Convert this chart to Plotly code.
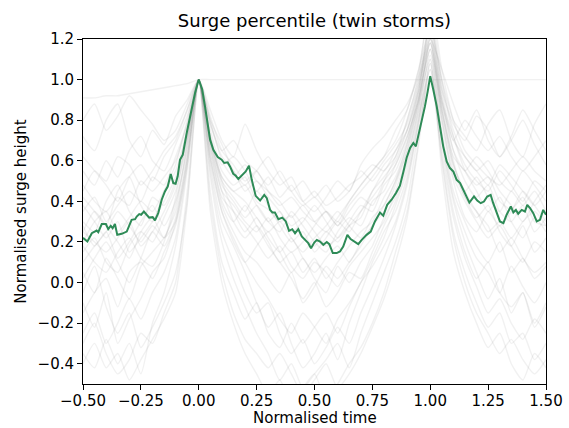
import plotly.graph_objects as go

# Normalised time axis shared by the ensemble members
ens_t = [-0.50, -0.45, -0.40, -0.35, -0.30, -0.25, -0.20, -0.15, -0.10, -0.05,
         0.00, 0.05, 0.10, 0.15, 0.20, 0.25, 0.30, 0.35, 0.40, 0.45,
         0.50, 0.55, 0.60, 0.65, 0.70, 0.75, 0.80, 0.85, 0.90, 0.95,
         1.00, 1.05, 1.10, 1.15, 1.20, 1.25, 1.30, 1.35, 1.40, 1.45, 1.50]

# Individual twin-storm surge events (normalised to the first peak)
ens_a = [0.35, 0.42, 0.30, 0.38, 0.45, 0.40, 0.52, 0.48, 0.62, 0.78, 1.00, 0.72, 0.55, 0.48, 0.52, 0.40, 0.36, 0.30, 0.33, 0.22, 0.18, 0.25, 0.20, 0.28, 0.35, 0.42, 0.50, 0.58, 0.72, 0.90, 1.15, 0.85, 0.62, 0.55, 0.48, 0.52, 0.40, 0.36, 0.42, 0.30, 0.28]
ens_b = [-0.10, -0.22, -0.05, -0.30, -0.18, -0.08, 0.05, 0.12, 0.30, 0.62, 1.00, 0.58, 0.30, 0.18, 0.05, -0.10, -0.22, -0.15, -0.30, -0.42, -0.35, -0.25, -0.38, -0.20, -0.05, 0.10, 0.22, 0.38, 0.55, 0.82, 1.05, 0.70, 0.40, 0.20, 0.05, -0.08, 0.02, -0.15, -0.05, -0.22, -0.12]
ens_c = [0.72, 0.65, 0.80, 0.88, 0.70, 0.62, 0.75, 0.68, 0.82, 0.90, 1.00, 0.85, 0.70, 0.62, 0.78, 0.65, 0.55, 0.48, 0.52, 0.40, 0.35, 0.42, 0.50, 0.45, 0.58, 0.66, 0.72, 0.80, 0.88, 1.02, 1.22, 0.95, 0.78, 0.70, 0.82, 0.75, 0.62, 0.70, 0.80, 0.68, 0.58]
ens_d = [0.15, 0.22, 0.10, 0.05, 0.18, 0.25, 0.20, 0.32, 0.45, 0.70, 1.00, 0.65, 0.42, 0.35, 0.28, 0.20, 0.12, 0.18, 0.08, 0.02, 0.10, 0.05, -0.02, 0.08, 0.15, 0.22, 0.30, 0.45, 0.62, 0.85, 1.12, 0.80, 0.52, 0.40, 0.30, 0.22, 0.28, 0.18, 0.10, 0.20, 0.15]
ens_e = [0.28, 0.18, 0.25, 0.12, 0.20, 0.30, 0.38, 0.28, 0.40, 0.65, 1.00, 0.78, 0.62, 0.55, 0.45, 0.50, 0.42, 0.35, 0.28, 0.32, 0.25, 0.18, 0.22, 0.30, 0.38, 0.35, 0.48, 0.55, 0.70, 0.95, 1.28, 0.92, 0.65, 0.50, 0.42, 0.48, 0.35, 0.30, 0.38, 0.25, 0.32]
ens_f = [-0.35, -0.42, -0.28, -0.40, -0.30, -0.45, -0.20, -0.05, 0.18, 0.55, 1.00, 0.52, 0.20, 0.02, -0.12, -0.25, -0.35, -0.48, -0.40, -0.52, -0.45, -0.38, -0.30, -0.42, -0.25, -0.10, 0.05, 0.20, 0.40, 0.75, 1.02, 0.62, 0.25, 0.05, -0.10, -0.22, -0.15, -0.30, -0.25, -0.38, -0.30]
ens_g = [0.45, 0.55, 0.50, 0.62, 0.58, 0.48, 0.55, 0.65, 0.72, 0.85, 1.00, 0.80, 0.60, 0.52, 0.58, 0.50, 0.45, 0.38, 0.42, 0.35, 0.30, 0.35, 0.28, 0.38, 0.45, 0.52, 0.60, 0.68, 0.78, 0.98, 1.18, 0.88, 0.70, 0.62, 0.55, 0.60, 0.50, 0.45, 0.55, 0.48, 0.40]
ens_h = [0.05, -0.05, 0.12, 0.02, -0.08, 0.08, 0.15, 0.22, 0.35, 0.68, 1.00, 0.62, 0.38, 0.25, 0.15, 0.10, 0.02, -0.05, 0.05, -0.10, -0.02, 0.08, 0.02, 0.10, 0.18, 0.28, 0.35, 0.48, 0.65, 0.88, 1.10, 0.75, 0.45, 0.30, 0.18, 0.10, 0.20, 0.05, 0.12, 0.02, 0.08]
ens_i = [0.20, 0.30, 0.35, 0.25, 0.32, 0.40, 0.35, 0.45, 0.55, 0.75, 1.00, 0.70, 0.50, 0.42, 0.35, 0.45, 0.38, 0.28, 0.20, 0.25, 0.15, 0.22, 0.30, 0.25, 0.35, 0.45, 0.55, 0.62, 0.80, 1.00, 1.20, 1.05, 0.88, 0.75, 0.85, 0.70, 0.62, 0.72, 0.85, 0.75, 0.65]
ens_j = [0.30, 0.25, 0.40, 0.48, 0.35, 0.28, 0.42, 0.38, 0.50, 0.72, 1.00, 0.68, 0.45, 0.30, 0.22, 0.28, 0.20, 0.10, 0.15, 0.05, 0.12, 0.02, 0.10, 0.18, 0.25, 0.30, 0.42, 0.52, 0.68, 0.92, 1.15, 0.82, 0.55, 0.42, 0.32, 0.38, 0.25, 0.18, 0.28, 0.15, 0.22]
ens_k = [-0.15, -0.05, 0.02, -0.12, 0.05, 0.10, 0.02, 0.15, 0.28, 0.60, 1.00, 0.60, 0.35, 0.22, 0.10, 0.00, -0.08, -0.18, -0.25, -0.15, -0.22, -0.30, -0.18, -0.10, 0.00, 0.12, 0.25, 0.35, 0.52, 0.80, 1.08, 0.72, 0.42, 0.25, 0.12, 0.05, -0.05, 0.08, -0.02, -0.10, 0.00]
ens_l = [0.55, 0.48, 0.60, 0.52, 0.65, 0.72, 0.60, 0.55, 0.68, 0.82, 1.00, 0.75, 0.58, 0.62, 0.55, 0.45, 0.52, 0.42, 0.48, 0.40, 0.45, 0.38, 0.42, 0.48, 0.52, 0.58, 0.55, 0.65, 0.75, 0.95, 1.25, 0.90, 0.72, 0.58, 0.50, 0.45, 0.55, 0.48, 0.40, 0.50, 0.45]
ens_m = [0.10, 0.18, 0.25, 0.35, 0.28, 0.20, 0.28, 0.22, 0.38, 0.68, 1.00, 0.70, 0.48, 0.40, 0.32, 0.38, 0.30, 0.25, 0.35, 0.28, 0.20, 0.15, 0.25, 0.32, 0.28, 0.40, 0.45, 0.58, 0.72, 0.92, 1.30, 0.98, 0.72, 0.55, 0.45, 0.35, 0.42, 0.30, 0.22, 0.32, 0.25]
ens_n = [-0.25, -0.15, -0.30, -0.20, -0.08, -0.18, -0.05, 0.05, 0.22, 0.58, 1.00, 0.55, 0.25, 0.10, -0.05, -0.15, -0.10, -0.25, -0.35, -0.28, -0.40, -0.32, -0.22, -0.30, -0.15, -0.02, 0.12, 0.28, 0.48, 0.78, 1.05, 0.65, 0.32, 0.12, -0.02, -0.15, -0.08, -0.20, -0.28, -0.18, -0.25]
ens_o = [0.38, 0.30, 0.22, 0.30, 0.15, 0.22, 0.30, 0.40, 0.52, 0.75, 1.00, 0.72, 0.52, 0.45, 0.40, 0.32, 0.25, 0.30, 0.22, 0.15, 0.22, 0.28, 0.35, 0.28, 0.22, 0.32, 0.38, 0.50, 0.65, 0.90, 1.18, 0.85, 0.58, 0.45, 0.52, 0.42, 0.35, 0.45, 0.38, 0.45, 0.35]
ens_p = [0.25, 0.20, 0.15, 0.22, 0.30, 0.18, 0.25, 0.35, 0.48, 0.72, 1.00, 0.68, 0.45, 0.38, 0.30, 0.25, 0.32, 0.22, 0.15, 0.20, 0.28, 0.35, 0.30, 0.40, 0.48, 0.55, 0.62, 0.70, 0.85, 1.05, 1.25, 1.00, 0.80, 0.72, 0.65, 0.78, 0.85, 0.70, 0.62, 0.78, 0.88]
ens_q = [-0.05, 0.08, -0.12, -0.25, -0.15, -0.32, -0.22, -0.10, 0.05, 0.40, 1.00, 0.35, 0.00, -0.20, -0.35, -0.45, -0.55, -0.48, -0.60, -0.52, -0.45, -0.58, -0.50, -0.40, -0.32, -0.20, -0.05, 0.15, 0.35, 0.70, 1.10, 0.55, 0.15, -0.05, -0.20, -0.32, -0.25, -0.40, -0.48, -0.35, -0.42]
ens_r = [0.80, 0.88, 0.75, 0.82, 0.92, 0.85, 0.78, 0.70, 0.75, 0.88, 1.00, 0.82, 0.65, 0.58, 0.50, 0.55, 0.45, 0.40, 0.32, 0.38, 0.30, 0.25, 0.32, 0.40, 0.48, 0.55, 0.62, 0.75, 0.85, 1.05, 1.35, 1.00, 0.75, 0.62, 0.55, 0.48, 0.58, 0.52, 0.45, 0.38, 0.45]
ens_s = [0.02, 0.12, 0.20, 0.10, 0.00, 0.12, 0.25, 0.18, 0.32, 0.62, 1.00, 0.66, 0.40, 0.30, 0.38, 0.28, 0.18, 0.10, 0.02, -0.08, 0.00, -0.12, -0.05, 0.05, 0.02, 0.15, 0.28, 0.40, 0.58, 0.85, 1.20, 0.85, 0.58, 0.45, 0.35, 0.28, 0.15, 0.22, 0.12, 0.05, 0.10]
ens_u = [0.42, 0.35, 0.28, 0.45, 0.52, 0.38, 0.30, 0.45, 0.58, 0.80, 1.00, 0.78, 0.65, 0.70, 0.60, 0.55, 0.48, 0.55, 0.45, 0.38, 0.42, 0.35, 0.28, 0.35, 0.42, 0.38, 0.50, 0.62, 0.75, 0.95, 1.20, 0.90, 0.65, 0.55, 0.62, 0.55, 0.45, 0.38, 0.30, 0.40, 0.48]
ens_v = [-0.30, -0.20, -0.35, -0.45, -0.38, -0.25, -0.30, -0.15, 0.00, 0.45, 1.00, 0.45, 0.10, -0.05, -0.18, -0.10, -0.25, -0.32, -0.20, -0.30, -0.22, -0.15, -0.25, -0.12, 0.00, 0.08, 0.18, 0.30, 0.50, 0.80, 1.15, 0.70, 0.35, 0.15, 0.02, 0.10, -0.05, -0.12, -0.05, -0.20, -0.10]
ens_w = [0.18, 0.10, 0.05, 0.15, 0.22, 0.12, 0.08, 0.20, 0.42, 0.72, 1.00, 0.72, 0.50, 0.35, 0.25, 0.32, 0.22, 0.15, 0.22, 0.12, 0.05, 0.12, 0.18, 0.10, 0.20, 0.28, 0.38, 0.50, 0.68, 0.90, 1.22, 0.88, 0.60, 0.42, 0.35, 0.25, 0.30, 0.22, 0.30, 0.35, 0.28]
ens_x = [0.62, 0.55, 0.48, 0.40, 0.52, 0.58, 0.50, 0.62, 0.70, 0.85, 1.00, 0.70, 0.52, 0.45, 0.48, 0.38, 0.30, 0.35, 0.25, 0.30, 0.38, 0.30, 0.22, 0.28, 0.32, 0.45, 0.52, 0.60, 0.75, 0.98, 1.30, 0.95, 0.70, 0.80, 0.72, 0.65, 0.72, 0.62, 0.55, 0.62, 0.70]
ens_y = [0.25, 0.35, 0.28, 0.20, 0.12, 0.25, 0.32, 0.22, 0.30, 0.58, 1.00, 0.62, 0.35, 0.20, 0.10, 0.18, 0.25, 0.15, 0.05, 0.12, 0.02, -0.05, 0.08, 0.00, 0.10, 0.18, 0.32, 0.42, 0.60, 0.88, 1.18, 0.80, 0.50, 0.32, 0.25, 0.35, 0.28, 0.35, 0.45, 0.38, 0.30]
ens_z = [-0.40, -0.30, -0.42, -0.35, -0.48, -0.38, -0.28, -0.18, -0.05, 0.38, 1.00, 0.40, 0.05, -0.15, -0.28, -0.35, -0.42, -0.35, -0.45, -0.55, -0.48, -0.40, -0.52, -0.45, -0.35, -0.22, -0.08, 0.10, 0.32, 0.68, 1.08, 0.60, 0.22, 0.00, -0.15, -0.25, -0.35, -0.28, -0.38, -0.45, -0.38]
ens_aa = [0.48, 0.40, 0.35, 0.42, 0.38, 0.50, 0.45, 0.52, 0.60, 0.78, 1.00, 0.80, 0.68, 0.55, 0.48, 0.55, 0.62, 0.52, 0.45, 0.50, 0.42, 0.48, 0.40, 0.45, 0.55, 0.50, 0.58, 0.65, 0.80, 1.02, 1.40, 1.05, 0.80, 0.65, 0.58, 0.52, 0.48, 0.55, 0.62, 0.55, 0.50]
ens_flat = [0.91, 0.91, 0.92, 0.92, 0.93, 0.94, 0.95, 0.96, 0.97, 0.98, 1.00, 1.00, 1.00, 1.00, 1.00, 1.00, 1.00, 1.00, 1.00, 1.00, 1.00, 1.00, 1.00, 1.00, 1.00, 1.00, 1.00, 1.00, 1.00, 1.00, 1.00, 1.00, 1.00, 1.00, 1.00, 1.00, 1.00, 1.00, 1.00, 1.00, 1.00]

ensemble = [ens_a, ens_b, ens_c, ens_d, ens_e, ens_f, ens_g, ens_h, ens_i,
            ens_j, ens_k, ens_l, ens_m, ens_n, ens_o, ens_p, ens_q, ens_r,
            ens_s, ens_u, ens_v, ens_w, ens_x, ens_y, ens_z, ens_aa, ens_flat]

# Percentile curve
pct_t = [-0.500, -0.481, -0.462, -0.441, -0.434, -0.419, -0.401, -0.391, -0.380, -0.372,
         -0.362, -0.352, -0.333, -0.311, -0.290, -0.275, -0.268, -0.257, -0.249, -0.237,
         -0.225, -0.214, -0.199, -0.189, -0.175, -0.160, -0.146, -0.134, -0.121, -0.110,
         -0.100, -0.091, -0.081, -0.069, -0.052, -0.030, -0.016, 0.000, 0.015, 0.027,
         0.039, 0.049, 0.063, 0.082, 0.099, 0.110, 0.125, 0.135, 0.149, 0.160,
         0.171, 0.186, 0.203, 0.217, 0.229, 0.246, 0.265, 0.283, 0.294, 0.308,
         0.318, 0.329, 0.344, 0.361, 0.376, 0.390, 0.404, 0.416, 0.430, 0.445,
         0.459, 0.473, 0.485, 0.499, 0.510, 0.524, 0.538, 0.553, 0.564, 0.579,
         0.596, 0.610, 0.624, 0.642, 0.656, 0.671, 0.689, 0.704, 0.725, 0.743,
         0.761, 0.783, 0.797, 0.814, 0.833, 0.852, 0.869, 0.884, 0.898, 0.913,
         0.927, 0.938, 0.948, 0.963, 0.977, 0.989, 1.000, 1.013, 1.028, 1.042,
         1.056, 1.071, 1.085, 1.100, 1.114, 1.129, 1.143, 1.157, 1.169, 1.189,
         1.203, 1.218, 1.232, 1.246, 1.261, 1.272, 1.287, 1.301, 1.316, 1.330,
         1.348, 1.359, 1.370, 1.380, 1.395, 1.409, 1.419, 1.431, 1.445, 1.460,
         1.474, 1.488, 1.500]
pct_v = [0.220, 0.202, 0.243, 0.256, 0.248, 0.288, 0.288, 0.263, 0.279, 0.268,
         0.288, 0.235, 0.240, 0.251, 0.309, 0.312, 0.325, 0.337, 0.334, 0.350,
         0.334, 0.320, 0.322, 0.306, 0.342, 0.408, 0.449, 0.473, 0.535, 0.490,
         0.487, 0.523, 0.605, 0.630, 0.737, 0.852, 0.934, 1.000, 0.951, 0.868,
         0.786, 0.704, 0.654, 0.618, 0.605, 0.589, 0.592, 0.572, 0.536, 0.526,
         0.510, 0.526, 0.547, 0.576, 0.506, 0.427, 0.404, 0.432, 0.416, 0.358,
         0.345, 0.345, 0.312, 0.320, 0.301, 0.255, 0.263, 0.243, 0.263, 0.227,
         0.210, 0.194, 0.169, 0.197, 0.210, 0.202, 0.186, 0.200, 0.189, 0.145,
         0.145, 0.153, 0.177, 0.235, 0.214, 0.202, 0.189, 0.210, 0.235, 0.251,
         0.301, 0.345, 0.329, 0.383, 0.408, 0.441, 0.477, 0.546, 0.615, 0.663,
         0.688, 0.671, 0.720, 0.786, 0.868, 0.942, 1.017, 0.951, 0.868, 0.769,
         0.671, 0.597, 0.564, 0.547, 0.506, 0.490, 0.457, 0.416, 0.394, 0.424,
         0.404, 0.391, 0.399, 0.424, 0.432, 0.391, 0.342, 0.301, 0.293, 0.334,
         0.375, 0.345, 0.358, 0.339, 0.358, 0.350, 0.383, 0.367, 0.342, 0.301,
         0.309, 0.358, 0.334]

x_ticks = [-0.50, -0.25, 0.00, 0.25, 0.50, 0.75, 1.00, 1.25, 1.50]
y_ticks = [-0.4, -0.2, 0.0, 0.2, 0.4, 0.6, 0.8, 1.0, 1.2]

FONT = "DejaVu Sans"

fig = go.Figure()

for member in ensemble:
    fig.add_trace(go.Scatter(
        x=ens_t, y=member, mode="lines",
        line=dict(color="rgba(128,128,128,0.11)", width=1.4,
                  shape="spline", smoothing=0.6),
        hoverinfo="skip", showlegend=False,
    ))

fig.add_trace(go.Scatter(
    x=pct_t, y=pct_v, mode="lines",
    line=dict(color="#2e8b57", width=2),
    showlegend=False,
))

axis_common = dict(
    showgrid=False, zeroline=False, automargin=False,
    showline=True, linecolor="black", linewidth=1, mirror=True,
    ticks="outside", ticklen=5, tickwidth=1, tickcolor="black",
    tickfont=dict(family=FONT, size=15, color="black"),
)

fig.update_layout(
    width=569, height=428,
    margin=dict(l=83, r=23, t=39, b=44),
    paper_bgcolor="white", plot_bgcolor="white",
    font=dict(family=FONT, color="black"),
    title=dict(text="Surge percentile (twin storms)",
               font=dict(family=FONT, size=18, color="black"),
               x=0.5, xref="paper", xanchor="center",
               y=1 - 21 / 428, yref="container", yanchor="middle"),
    xaxis=dict(range=[-0.5, 1.5], tickvals=x_ticks, tickformat=".2f",
               ticklabelstandoff=-2, **axis_common),
    yaxis=dict(range=[-0.5, 1.2], tickvals=y_ticks, tickformat=".1f",
               title=dict(text="Normalised surge height", font=dict(family=FONT, size=15), standoff=7),
               **axis_common),
)

# x-axis label placed below the tick labels, flush with the bottom edge
fig.add_annotation(
    text="Normalised time", showarrow=False,
    xref="paper", yref="paper", x=0.5, y=0,
    xanchor="center", yanchor="bottom", yshift=-44, borderpad=0,
    font=dict(family=FONT, size=15, color="black"),
)

fig.write_html("out.html")
